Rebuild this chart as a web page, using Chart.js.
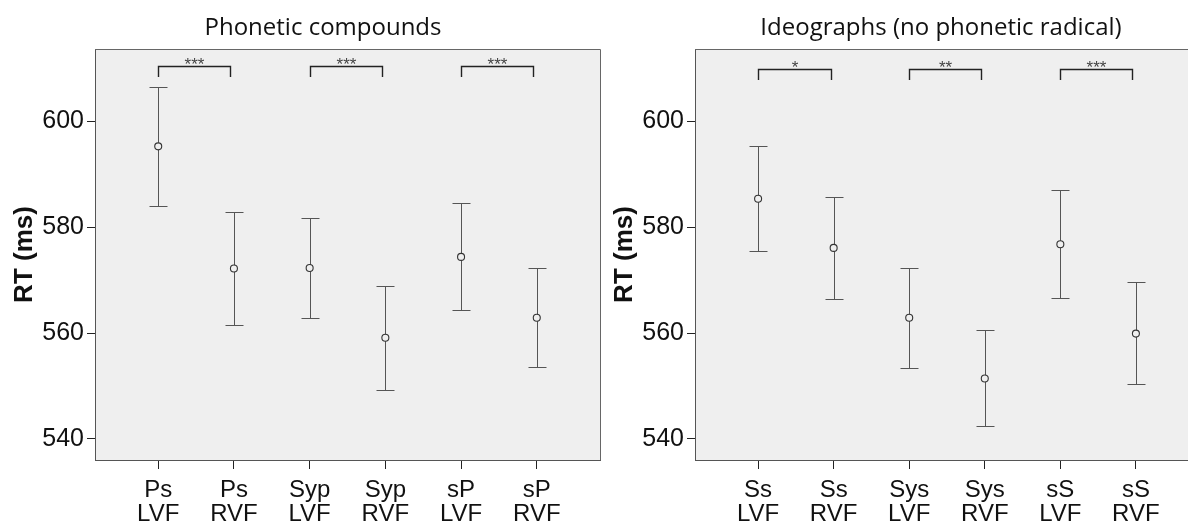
<!DOCTYPE html>
<html><head><meta charset="utf-8">
<script src="https://cdn.jsdelivr.net/npm/chart.js@4.4.1/dist/chart.umd.min.js"></script>
<style>
html,body{margin:0;padding:0;width:1188px;height:527px;overflow:hidden;background:#fff;}
#c1{position:absolute;left:0;top:0;}
#c2{position:absolute;left:600px;top:0;}
</style></head><body>
<canvas id="c1" width="646" height="527"></canvas>
<canvas id="c2" width="682" height="527"></canvas>
<script>
// ---- data ----
const yTickValues = [540, 560, 580, 600];
const yAxisTitle = "RT (ms)";

const leftTitle = "Phonetic compounds";
const leftCategories = [["Ps","LVF"],["Ps","RVF"],["Syp","LVF"],["Syp","RVF"],["sP","LVF"],["sP","RVF"]];
const leftMean = [595.3, 572.2, 572.3, 559.1, 574.4, 562.9];
const leftLow  = [584.1, 561.6, 562.9, 549.2, 564.3, 553.6];
const leftHigh = [606.6, 582.9, 581.7, 568.9, 584.5, 572.3];
const leftBracketStart = [0, 2, 4];
const leftBracketEnd   = [0.95, 2.95, 4.95];
const leftBracketLevel = 610.4;
const leftStars = ["***", "***", "***"];

const rightTitle = "Ideographs (no phonetic radical)";
const rightCategories = [["Ss","LVF"],["Ss","RVF"],["Sys","LVF"],["Sys","RVF"],["sS","LVF"],["sS","RVF"]];
const rightMean = [585.4, 576.1, 562.9, 551.4, 576.8, 559.9];
const rightLow  = [575.5, 566.5, 553.4, 542.4, 566.7, 550.4];
const rightHigh = [595.3, 585.7, 572.3, 560.6, 587.0, 569.7];
const rightBracketStart = [0, 2, 4];
const rightBracketEnd   = [0.96, 2.95, 4.95];
const rightBracketLevel = 609.9;
const rightStars = ["*", "**", "***"];

// ---- drawing ----
const AX = '"Liberation Sans", Arial, sans-serif';

function makePanel(canvasId, title, cats, mean, low, high, bStart, bEnd, bLevel, stars, padRight) {
  const panelPlugin = {
    id: 'panel_' + canvasId,
    beforeDraw(chart) {
      const {ctx, chartArea: a} = chart;
      ctx.save();
      ctx.fillStyle = '#efefef';
      ctx.fillRect(a.left, a.top, a.right - a.left, a.bottom - a.top);
      ctx.restore();
    },
    beforeDatasetsDraw(chart) {
      const {ctx, scales: {x, y}} = chart;
      ctx.save();
      ctx.strokeStyle = '#555';
      ctx.lineWidth = 1;
      for (let i = 0; i < mean.length; i++) {
        const px = Math.round(x.getPixelForValue(i)) + 0.5;
        const yh = Math.round(y.getPixelForValue(high[i])) + 0.5;
        const yl = Math.round(y.getPixelForValue(low[i])) + 0.5;
        ctx.beginPath();
        ctx.moveTo(px, yh); ctx.lineTo(px, yl);
        ctx.moveTo(px - 9, yh); ctx.lineTo(px + 9, yh);
        ctx.moveTo(px - 9, yl); ctx.lineTo(px + 9, yl);
        ctx.stroke();
      }
      ctx.restore();
    },
    afterDraw(chart) {
      const {ctx, chartArea: a, scales: {x, y}} = chart;
      ctx.save();
      // top & right frame
      ctx.strokeStyle = '#666';
      ctx.lineWidth = 1;
      ctx.beginPath();
      ctx.moveTo(a.left, Math.round(a.top) + 0.5);
      ctx.lineTo(Math.round(a.right) + 0.5, Math.round(a.top) + 0.5);
      ctx.lineTo(Math.round(a.right) + 0.5, a.bottom);
      ctx.stroke();
      // brackets
      ctx.strokeStyle = '#222';
      ctx.lineWidth = 1.4;
      ctx.font = '17px ' + AX;
      ctx.fillStyle = '#444';
      ctx.textAlign = 'center';
      const yb = Math.round(y.getPixelForValue(bLevel)) + 0.5;
      const yd = Math.round(y.getPixelForValue(bLevel - 2));
      for (let k = 0; k < bStart.length; k++) {
        const x1 = Math.round(x.getPixelForValue(bStart[k])) + 0.5;
        const x2 = Math.round(x.getPixelForValue(bEnd[k])) + 0.5;
        ctx.beginPath();
        ctx.moveTo(x1, yd); ctx.lineTo(x1, yb); ctx.lineTo(x2, yb); ctx.lineTo(x2, yd);
        ctx.stroke();
        const m = ctx.measureText(stars[k]);
        const asc = m.actualBoundingBoxAscent, desc = m.actualBoundingBoxDescent;
        const centerY = yb - 5.5;
        ctx.fillText(stars[k], (x1 + x2) / 2, centerY + (asc - desc) / 2);
      }
      // title
      ctx.font = '24px "Open Sans", sans-serif';
      ctx.fillStyle = '#111';
      ctx.textAlign = 'center';
      ctx.textBaseline = 'alphabetic';
      ctx.fillText(title, chart.width / 2, 35);
      ctx.restore();
    }
  };

  return new Chart(document.getElementById(canvasId), {
    type: 'scatter',
    data: {
      datasets: [{
        data: mean.map((m, i) => ({x: i, y: m})),
        pointStyle: 'circle',
        pointRadius: 3.5,
        pointHoverRadius: 3.5,
        borderColor: '#333',
        backgroundColor: '#efefef',
        pointBorderWidth: 1.1,
        showLine: false
      }]
    },
    options: {
      responsive: false,
      animation: false,
      events: [],
      layout: {padding: {top: 49, right: padRight, left: 0, bottom: 0}},
      plugins: {legend: {display: false}, tooltip: {enabled: false}, title: {display: false}},
      scales: {
        x: {
          type: 'linear',
          min: -0.835, max: 5.835,
          afterBuildTicks: s => { s.ticks = cats.map((c, i) => ({value: i})); },
          afterFit: s => { s.height = 67; },
          grid: {drawOnChartArea: false, drawTicks: true, tickLength: 9, tickColor: '#222', tickWidth: 1},
          border: {display: true, color: '#555', width: 1},
          ticks: {
            callback: (v, i) => cats[i],
            font: {family: AX, size: 24, lineHeight: 1},
            color: '#111', padding: 9, maxRotation: 0, minRotation: 0, autoSkip: false
          }
        },
        y: {
          type: 'linear',
          min: 536, max: 613.7,
          afterBuildTicks: s => { s.ticks = yTickValues.map(v => ({value: v})); },
          afterFit: s => { s.width = 95; },
          grid: {drawOnChartArea: false, drawTicks: true, tickLength: 8, tickColor: '#222', tickWidth: 1},
          border: {display: true, color: '#555', width: 1},
          ticks: {font: {family: AX, size: 25}, color: '#111', padding: 3},
          title: {
            display: true, text: yAxisTitle,
            font: {family: AX, size: 26, weight: 'bold'},
            color: '#111', padding: {top: 9, bottom: 0}
          }
        }
      }
    },
    plugins: [panelPlugin]
  });
}

function draw() {
  makePanel('c1', leftTitle, leftCategories, leftMean, leftLow, leftHigh,
            leftBracketStart, leftBracketEnd, leftBracketLevel, leftStars, 46);
  makePanel('c2', rightTitle, rightCategories, rightMean, rightLow, rightHigh,
            rightBracketStart, rightBracketEnd, rightBracketLevel, rightStars, 83);
}
Promise.all([
  document.fonts.load('24px "Open Sans"'),
  document.fonts.load('24px "Liberation Sans"'),
  document.fonts.load('bold 26px "Liberation Sans"')
]).then(draw, draw);
</script>
</body></html>
